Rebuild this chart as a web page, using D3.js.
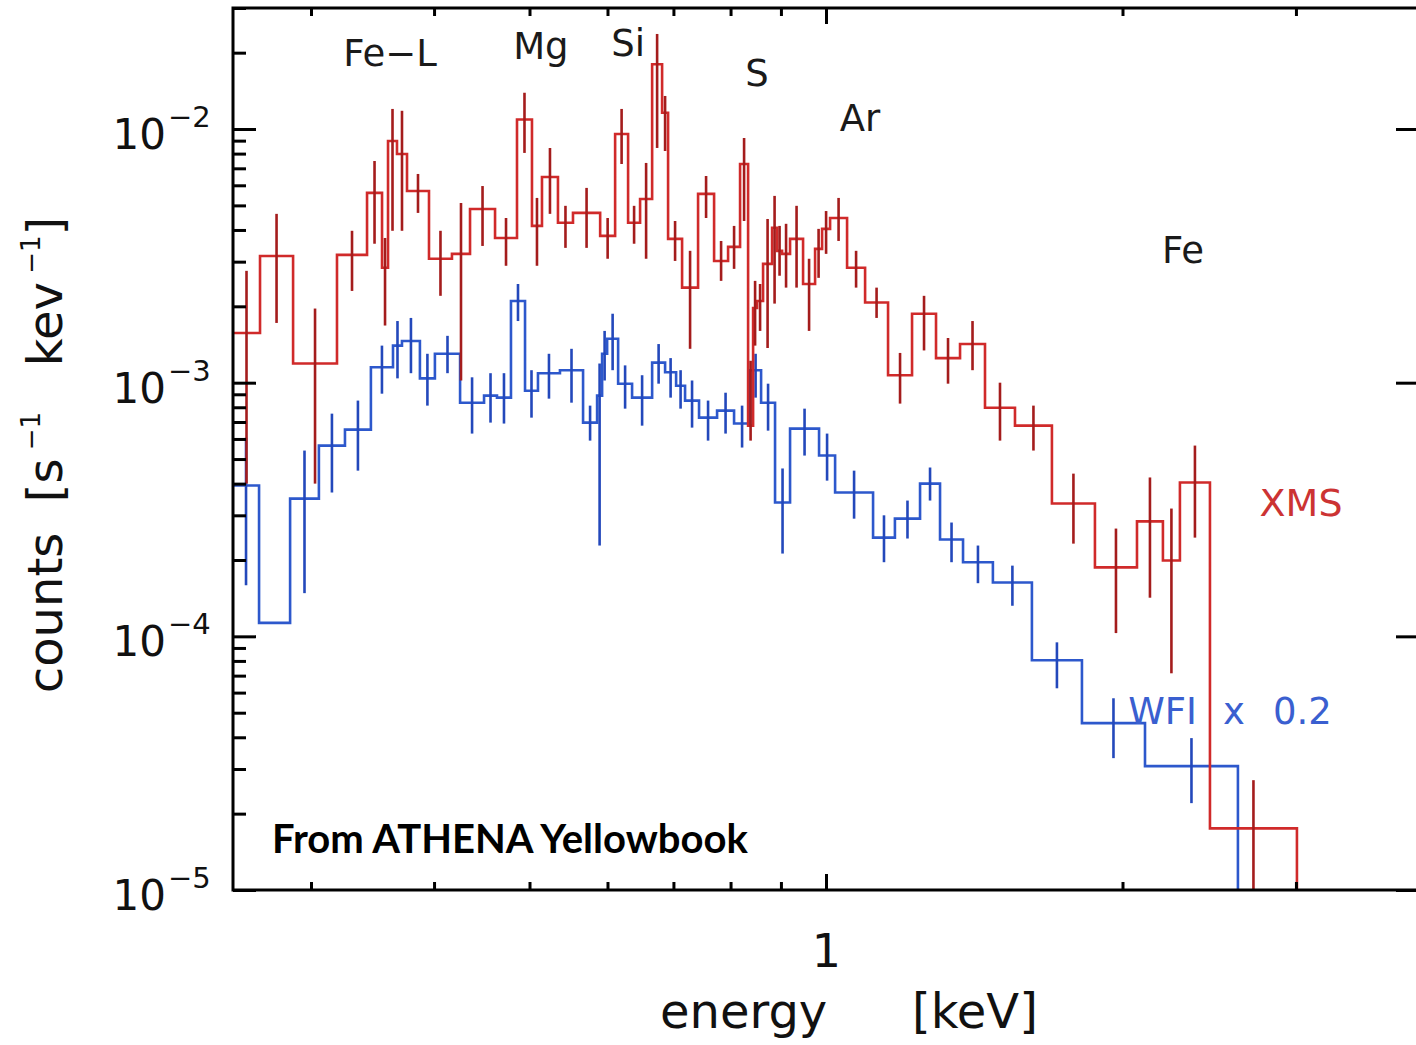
<!DOCTYPE html>
<html>
<head>
<meta charset="utf-8">
<script src="https://cdn.jsdelivr.net/npm/d3@7"></script>
<style>
  body { margin: 0; background: #fff; }
  svg { display: block; font-family: "DejaVu Sans", sans-serif; }
</style>
</head>
<body>
<svg id="chart" width="1416" height="1045"></svg>
<script>
// XMS spectrum: bin edges [keV], rate and error bar ends [counts s^-1 keV^-1]
var xmsEdges = [0.25, 0.2663, 0.2877, 0.3188, 0.3420, 0.3542, 0.3592, 0.3668, 0.3755, 0.3953,
  0.4171, 0.4351, 0.4613, 0.4856, 0.5029, 0.5148, 0.5344, 0.5535, 0.5898, 0.6108,
  0.6296, 0.6475, 0.6660, 0.6817, 0.6913, 0.7143, 0.7415, 0.7698, 0.7954, 0.8180,
  0.8335, 0.8433, 0.8512, 0.8632, 0.8816, 0.8919, 0.9024, 0.9194, 0.9478, 0.9748,
  0.9909, 1.0096, 1.0505, 1.0957, 1.1561, 1.2228, 1.2933, 1.3680, 1.4502, 1.5555,
  1.6958, 1.8752, 2.0689, 2.1982, 2.2873, 2.4537, 3.007];
var xmsRate = [1.57e-3, 3.16e-3, 1.19e-3, 3.19e-3, 5.60e-3, 2.84e-3, 8.97e-3, 7.97e-3, 5.70e-3, 3.08e-3,
  3.22e-3, 4.84e-3, 3.72e-3, 1.09e-2, 4.15e-3, 6.47e-3, 4.27e-3, 4.67e-3, 3.79e-3, 9.56e-3,
  4.27e-3, 5.30e-3, 1.80e-2, 1.16e-2, 3.69e-3, 2.37e-3, 5.55e-3, 3.02e-3, 3.43e-3, 7.28e-3,
  6.77e-4, 1.97e-3, 2.10e-3, 2.94e-3, 4.08e-3, 3.31e-3, 3.22e-3, 3.69e-3, 2.45e-3, 3.37e-3,
  4.04e-3, 4.46e-3, 2.84e-3, 2.07e-3, 1.07e-3, 1.87e-3, 1.25e-3, 1.42e-3, 7.97e-4, 6.77e-4,
  3.34e-4, 1.87e-4, 2.84e-4, 1.99e-4, 4.04e-4, 1.75e-5];
var xmsErrHigh = [2.76e-3, 4.63e-3, 1.96e-3, 3.97e-3, 7.48e-3, 3.72e-3, 1.20e-2, 1.18e-2, 6.65e-3, 3.97e-3,
  5.11e-3, 5.96e-3, 4.46e-3, 1.39e-2, 5.35e-3, 8.42e-3, 4.98e-3, 5.86e-3, 4.46e-3, 1.20e-2,
  4.98e-3, 7.35e-3, 2.37e-2, 1.35e-2, 4.34e-3, 3.31e-3, 6.53e-3, 3.62e-3, 4.15e-3, 9.22e-3,
  1.22e-3, 2.52e-3, 2.45e-3, 4.42e-3, 5.45e-3, 4.15e-3, 4.23e-3, 4.98e-3, 3.08e-3, 4.04e-3,
  4.75e-3, 5.35e-3, 3.31e-3, 2.37e-3, 1.31e-3, 2.20e-3, 1.50e-3, 1.75e-3, 1.00e-3, 8.12e-4,
  4.38e-4, 2.66e-4, 4.23e-4, 3.19e-4, 5.65e-4, 2.71e-5];
var xmsErrLow = [4.0e-4, 1.72e-3, 4.0e-4, 2.30e-3, 3.53e-3, 1.68e-3, 3.97e-3, 3.97e-3, 4.67e-3, 2.20e-3,
  1.02e-3, 3.46e-3, 2.89e-3, 8.05e-3, 2.89e-3, 4.63e-3, 3.40e-3, 3.40e-3, 3.08e-3, 7.28e-3,
  3.53e-3, 3.08e-3, 8.42e-3, 8.19e-3, 3.02e-3, 1.36e-3, 4.46e-3, 2.52e-3, 2.81e-3, 4.34e-3,
  5.91e-4, 1.40e-3, 1.60e-3, 1.37e-3, 2.05e-3, 2.64e-3, 2.37e-3, 2.37e-3, 1.60e-3, 2.59e-3,
  3.22e-3, 3.62e-3, 2.37e-3, 1.80e-3, 8.27e-4, 1.34e-3, 9.91e-4, 1.12e-3, 5.91e-4, 5.40e-4,
  2.32e-4, 1.03e-4, 1.42e-4, 7.15e-5, 2.45e-4, 5e-6];

// WFI spectrum (already scaled x 0.2)
var wfiEdges = [0.25, 0.2657, 0.2857, 0.3056, 0.3248, 0.3451, 0.3634, 0.3711, 0.3870, 0.4008,
  0.4251, 0.4496, 0.4634, 0.4788, 0.4948, 0.5100, 0.5369, 0.5667, 0.5856, 0.5925,
  0.5995, 0.6151, 0.6355, 0.6660, 0.6865, 0.7044, 0.7193, 0.7432, 0.7752, 0.8066,
  0.8374, 0.8592, 0.8877, 0.9194, 0.9839, 1.0215, 1.1163, 1.1748, 1.2459, 1.3055,
  1.3776, 1.4772, 1.6183, 1.8191, 2.1080, 2.6195];
var wfiRate = [3.93e-4, 1.13e-4, 3.49e-4, 5.65e-4, 6.53e-4, 1.15e-3, 1.40e-3, 1.46e-3, 1.04e-3, 1.30e-3,
  8.34e-4, 8.89e-4, 8.73e-4, 2.10e-3, 9.30e-4, 1.09e-3, 1.12e-3, 6.96e-4, 8.89e-4, 1.30e-3,
  1.49e-3, 9.91e-4, 8.73e-4, 1.20e-3, 1.10e-3, 9.73e-4, 8.50e-4, 7.28e-4, 7.76e-4, 6.90e-4,
  1.12e-3, 8.34e-4, 3.37e-4, 6.59e-4, 5.16e-4, 3.69e-4, 2.45e-4, 2.91e-4, 4.00e-4, 2.41e-4,
  1.96e-4, 1.63e-4, 8.05e-5, 4.55e-5, 3.08e-5];
var wfiErrHigh = [6.07e-4, null, 5.40e-4, 7.55e-4, 8.50e-4, 1.40e-3, 1.75e-3, 1.80e-3, 1.30e-3, 1.53e-3,
  1.05e-3, 1.09e-3, 1.09e-3, 2.45e-3, 1.12e-3, 1.30e-3, 1.36e-3, 8.12e-4, 1.19e-3, 1.60e-3,
  1.87e-3, 1.17e-3, 1.07e-3, 1.42e-3, 1.25e-3, 1.12e-3, 1.02e-3, 8.50e-4, 9.13e-4, 8.12e-4,
  1.30e-3, 9.91e-4, 4.59e-4, 7.90e-4, 6.30e-4, 4.50e-4, 3.00e-4, 3.43e-4, 4.63e-4, 2.81e-4,
  2.28e-4, 1.90e-4, 9.47e-5, 5.70e-5, 3.97e-5];
var wfiErrLow = [1.59e-4, null, 1.48e-4, 3.69e-4, 4.50e-4, 9.05e-4, 1.04e-3, 1.09e-3, 8.12e-4, 1.09e-3,
  6.30e-4, 6.96e-4, 6.90e-4, 1.75e-3, 7.28e-4, 8.65e-4, 8.34e-4, 5.91e-4, 2.28e-4, 1.02e-3,
  1.12e-3, 7.90e-4, 6.77e-4, 9.91e-4, 8.73e-4, 7.90e-4, 6.65e-4, 5.91e-4, 6.30e-4, 5.55e-4,
  8.73e-4, 6.47e-4, 2.12e-4, 5.16e-4, 4.11e-4, 2.91e-4, 1.96e-4, 2.43e-4, 3.43e-4, 1.96e-4,
  1.62e-4, 1.32e-4, 6.24e-5, 3.31e-5, 2.20e-5];

// axis ticks
var xMinorTicks = [0.3, 0.4, 0.5, 0.6, 0.7, 0.8, 0.9, 2, 3];
var xMajorTicks = [1];
var yMajorTicks = [1e-5, 1e-4, 1e-3, 1e-2];
var yExponents = ["\u22125", "\u22124", "\u22123", "\u22122"];

// line annotations: label, energy, counts at baseline
var lineNames = ["Fe\u2212L", "Mg", "Si", "S", "Ar", "Fe"];
var lineEnergy = [0.361, 0.5135, 0.6296, 0.8512, 1.0825, 2.304];
var lineCounts = [0.0177, 0.01886, 0.01938, 0.01477, 0.00982, 2.97e-3];

var xmsColor = "#d02a2a", xmsErrColor = "#a41c1c";
var wfiColor = "#2d58cc", wfiErrColor = "#2348bb";

var svg = d3.select("#chart");
var plot = {left: 233, right: 1419, top: 8, bottom: 890};

var x = d3.scaleLog().domain([0.25, 4]).range([plot.left, plot.right]);
var y = d3.scaleLog().domain([1e-5, 3e-2]).range([plot.bottom, plot.top]);

svg.append("defs").append("clipPath").attr("id", "plotclip")
  .append("rect")
  .attr("x", plot.left).attr("y", plot.top)
  .attr("width", plot.right - plot.left).attr("height", plot.bottom - plot.top);

var yMinorTicks = [];
yMajorTicks.forEach(function(d) {
  for (var k = 2; k <= 9; k++) {
    if (d * k <= 3e-2) yMinorTicks.push(d * k);
  }
});

// step histogram points, ending with a drop below the plot
function stepPoints(edges, vals) {
  var pts = vals.map(function(v, i) { return [edges[i], v]; });
  pts.push([edges[edges.length - 1], vals[vals.length - 1]]);
  pts.push([edges[edges.length - 1], 1e-7]);
  return pts;
}

function errBars(edges, lo, hi) {
  var out = [];
  for (var i = 0; i < lo.length; i++) {
    if (lo[i] == null) continue;
    out.push({e: Math.sqrt(edges[i] * edges[i + 1]), lo: lo[i], hi: hi[i]});
  }
  return out;
}

var step = d3.line()
  .x(function(d) { return x(d[0]); })
  .y(function(d) { return y(Math.max(d[1], 1e-7)); })
  .curve(d3.curveStepAfter);

var data_g = svg.append("g").attr("clip-path", "url(#plotclip)");

function drawSeries(edges, vals, lo, hi, col, errCol) {
  data_g.append("path")
    .attr("d", step(stepPoints(edges, vals)))
    .attr("fill", "none")
    .attr("stroke", col)
    .attr("stroke-width", 2.6);
  data_g.selectAll(null)
    .data(errBars(edges, lo, hi))
    .enter().append("line")
    .attr("x1", function(d) { return x(d.e); })
    .attr("x2", function(d) { return x(d.e); })
    .attr("y1", function(d) { return y(d.lo); })
    .attr("y2", function(d) { return y(d.hi); })
    .attr("stroke", errCol)
    .attr("stroke-width", 2.6);
}

drawSeries(wfiEdges, wfiRate, wfiErrLow, wfiErrHigh, wfiColor, wfiErrColor);
drawSeries(xmsEdges, xmsRate, xmsErrLow, xmsErrHigh, xmsColor, xmsErrColor);

// axes (ticks point inward)
function styleAxis(g) {
  g.select(".domain").remove();
  g.selectAll(".tick line").attr("stroke", "#000").attr("stroke-width", 3);
}

svg.append("g").attr("transform", "translate(0," + plot.bottom + ")")
  .call(d3.axisBottom(x).tickValues(xMinorTicks).tickSize(-8).tickFormat(""))
  .call(styleAxis);
svg.append("g").attr("transform", "translate(0," + plot.bottom + ")")
  .call(d3.axisBottom(x).tickValues(xMajorTicks).tickSize(-16).tickPadding(60)
    .tickFormat(function(d) { return d; }))
  .call(styleAxis)
  .selectAll("text")
  .style("font-family", "DejaVu Sans")
  .attr("font-size", 46)
  .attr("fill", "#111")
  .attr("dy", 0)
  .attr("y", 77);

svg.append("g").attr("transform", "translate(0," + plot.top + ")")
  .call(d3.axisTop(x).tickValues(xMinorTicks).tickSize(-8).tickFormat(""))
  .call(styleAxis);
svg.append("g").attr("transform", "translate(0," + plot.top + ")")
  .call(d3.axisTop(x).tickValues(xMajorTicks).tickSize(-16).tickFormat(""))
  .call(styleAxis);

svg.append("g").attr("transform", "translate(" + plot.left + ",0)")
  .call(d3.axisLeft(y).tickValues(yMinorTicks).tickSize(-13).tickFormat(""))
  .call(styleAxis);
svg.append("g").attr("transform", "translate(" + plot.left + ",0)")
  .call(d3.axisLeft(y).tickValues(yMajorTicks).tickSize(-23).tickFormat(""))
  .call(styleAxis);
svg.append("g").attr("transform", "translate(" + plot.right + ",0)")
  .call(d3.axisRight(y).tickValues(yMajorTicks).tickSize(-23).tickFormat(""))
  .call(styleAxis);

// y tick labels 10^n
var ylab = svg.append("g").selectAll("g")
  .data(yMajorTicks)
  .enter().append("g")
  .attr("transform", function(d) { return "translate(0," + y(d) + ")"; });
ylab.append("text")
  .attr("x", 166).attr("y", 20)
  .attr("text-anchor", "end")
  .attr("font-size", 42)
  .attr("fill", "#111")
  .text("10");
ylab.append("text")
  .attr("x", 168).attr("y", -2)
  .attr("font-size", 29)
  .attr("fill", "#111")
  .text(function(d, i) { return yExponents[i]; });

// frame
svg.append("rect")
  .attr("x", plot.left).attr("y", plot.top)
  .attr("width", plot.right - plot.left).attr("height", plot.bottom - plot.top)
  .attr("fill", "none").attr("stroke", "#000").attr("stroke-width", 3);

// axis titles
svg.append("text")
  .attr("x", 660).attr("y", 1028)
  .attr("font-size", 48).attr("fill", "#111")
  .text("energy");
svg.append("text")
  .attr("x", 912).attr("y", 1028)
  .attr("font-size", 48).attr("fill", "#111")
  .text("[keV]");

var yTitle = svg.append("text")
  .attr("transform", "translate(62,455) rotate(-90)")
  .attr("text-anchor", "middle")
  .attr("font-size", 48).attr("fill", "#111");
yTitle.append("tspan").text("counts\u00a0\u00a0[s");
yTitle.append("tspan").attr("font-size", 26).attr("dy", -22).text("\u00a0\u22121");
yTitle.append("tspan").attr("dy", 22).text("\u00a0\u00a0\u00a0kev");
yTitle.append("tspan").attr("font-size", 26).attr("dy", -22).text("\u00a0\u22121");
yTitle.append("tspan").attr("dy", 22).text("]");

// element line labels
svg.append("g").selectAll("text")
  .data(lineNames)
  .enter().append("text")
  .attr("x", function(d, i) { return x(lineEnergy[i]); })
  .attr("y", function(d, i) { return y(lineCounts[i]); })
  .attr("text-anchor", "middle")
  .attr("font-size", 37)
  .attr("fill", "#1a1a1a")
  .text(function(d) { return d; });

// series labels
svg.append("text")
  .attr("x", x(3.036)).attr("y", y(2.97e-4))
  .attr("text-anchor", "middle")
  .attr("font-size", 38).attr("fill", "#cc3333")
  .text("XMS");
var wfiLabel = svg.append("text")
  .attr("x", x(2.027)).attr("y", y(4.5e-5))
  .attr("font-size", 37).attr("fill", "#3a5fd0");
wfiLabel.append("tspan").text("WFI");
wfiLabel.append("tspan").attr("dx", 26).text("x");
wfiLabel.append("tspan").attr("dx", 28).text("0.2");

// credit
svg.append("text")
  .attr("x", 272).attr("y", 853)
  .style("font-family", "Lato, sans-serif")
  .style("font-weight", "bold")
  .attr("font-size", 40)
  .attr("fill", "#000")
  .text("From ATHENA Yellowbook");
</script>
</body>
</html>
